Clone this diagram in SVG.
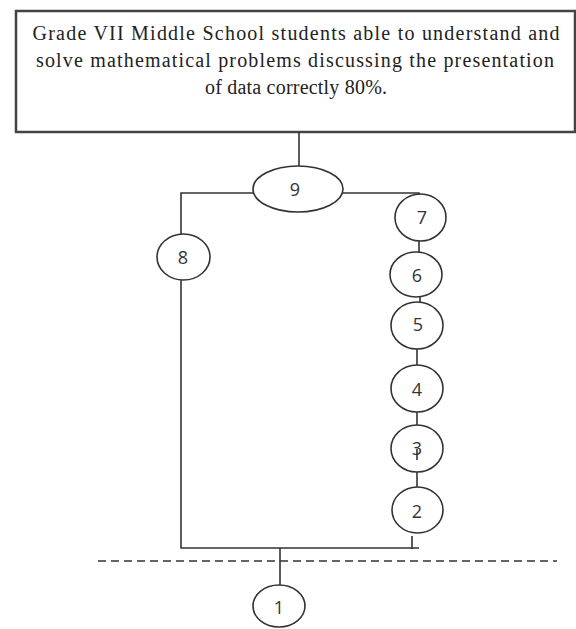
<svg xmlns="http://www.w3.org/2000/svg" width="576" height="629" viewBox="0 0 576 629">
<style>
.box{fill:#fff;stroke:#444;stroke-width:2.5}
.t{font-family:"Liberation Serif","Times New Roman",serif;font-size:20px;fill:#222;text-anchor:middle}
.n{fill:#fff;stroke:#333;stroke-width:1.6}
.l{font-family:"Open Sans","Noto Sans","Liberation Sans",sans-serif;font-size:18px;fill:#333;text-anchor:middle;dominant-baseline:central}
.c{stroke:#333;stroke-width:1.6;fill:none}
.d{stroke:#333;stroke-width:1.5;stroke-dasharray:8 5;fill:none}
</style>
<rect width="576" height="629" fill="#fff"/>
<g id="goal">
<rect class="box" x="16" y="11" width="559" height="121"/>
<text class="t" x="296" y="40" textLength="527" lengthAdjust="spacing">Grade VII Middle School students able to understand and</text>
<text class="t" x="295" y="67" textLength="518" lengthAdjust="spacing">solve mathematical problems discussing the presentation</text>
<text class="t" x="296" y="94" textLength="182" lengthAdjust="spacing">of data correctly 80%.</text>
</g>
<g id="connectors">
<path class="c" d="M299 132V166"/>
<path class="c" d="M253 193H181V234"/>
<path class="c" d="M343 193H419V195"/>
<path class="c" d="M419 241V252"/>
<path class="c" d="M420 292V304"/>
<path class="c" d="M417 349V365"/>
<path class="c" d="M417 412V425"/>
<path class="c" d="M417 472V487"/>
<path class="c" d="M181 280V548H419"/>
<path class="c" d="M412 536V549"/>
<path class="c" d="M280 548V585"/>
<path class="d" d="M98 561H557"/>
</g>
<g id="node9"><ellipse class="n" cx="298" cy="189" rx="45" ry="23"/><text class="l" x="295" y="189">9</text></g>
<g id="node8"><ellipse class="n" cx="183.5" cy="257" rx="26.5" ry="23"/><text class="l" x="183" y="257">8</text></g>
<g id="node7"><ellipse class="n" cx="420.5" cy="217.5" rx="25.5" ry="23.5"/><text class="l" x="422" y="217">7</text></g>
<g id="node6"><ellipse class="n" cx="416" cy="274.5" rx="26" ry="22.5"/><text class="l" x="417" y="275">6</text></g>
<g id="node5"><ellipse class="n" cx="417" cy="325.5" rx="26" ry="23.5"/><text class="l" x="418" y="324">5</text></g>
<g id="node4"><ellipse class="n" cx="417" cy="388.5" rx="26" ry="23.5"/><text class="l" x="417" y="389">4</text></g>
<g id="node3"><ellipse class="n" cx="417" cy="448.5" rx="26" ry="23.5"/><text class="l" x="417" y="448">3</text><path class="c" d="M417 449V460"/></g>
<g id="node2"><ellipse class="n" cx="417.5" cy="510" rx="25.5" ry="23"/><text class="l" x="417" y="511">2</text></g>
<g id="node1"><ellipse class="n" cx="279" cy="606" rx="26" ry="21"/><text class="l" x="279" y="607">1</text></g>
</svg>
